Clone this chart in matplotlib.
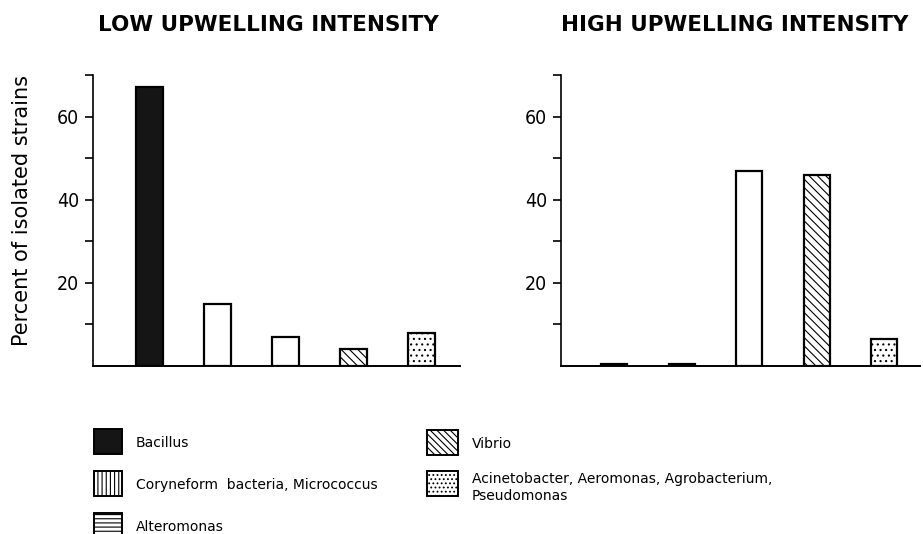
import matplotlib
matplotlib.use("Agg")
import matplotlib.pyplot as plt
from matplotlib.patches import Rectangle

# data (percent of isolated strains)
groups = ["Bacillus", "Coryneform  bacteria, Micrococcus", "Alteromonas",
          "Vibrio", "Acinetobacter, Aeromonas, Agrobacterium,\nPseudomonas"]
low_vals = [67, 15, 7, 4, 8]
high_vals = [0.4, 0.4, 47, 46, 6.5]
yticks = [10, 20, 30, 40, 50, 60, 70]
ytick_labels = ["", "20", "", "40", "", "60", ""]
titles = ["LOW UPWELLING INTENSITY", "HIGH UPWELLING INTENSITY"]

# look of each group: bars (as printed) and legend keys
bar_face = ["#151515", "white", "white", "white", "white"]
bar_hatch = [None, None, None, "\\\\\\\\", "..."]
key_hatch = [None, "||||", "----", "\\\\\\\\\\", "...."]

W, H = 923, 534
fig = plt.figure(figsize=(W / 100, H / 100), dpi=100)
plt.rcParams['hatch.linewidth'] = 0.8


def px_axes(x0, y0, x1, y1):
    return fig.add_axes([x0 / W, 1 - y1 / H, (x1 - x0) / W, (y1 - y0) / H])


def draw_panel(ax, vals, xlim, width):
    x = list(range(1, len(vals) + 1))
    for i in range(len(vals)):
        ax.bar(x[i], vals[i], width=width, color=bar_face[i], hatch=bar_hatch[i],
               edgecolor="black", linewidth=1.6)
    ax.set_xlim(*xlim)
    ax.set_ylim(0, 70)
    ax.set_yticks(yticks)
    ax.set_yticklabels(ytick_labels, fontsize=14, fontstretch="condensed")
    ax.set_xticks([])
    ax.spines["top"].set_visible(False)
    ax.spines["right"].set_visible(False)
    ax.spines["left"].set_linewidth(1.2)
    ax.spines["bottom"].set_linewidth(1.4)
    ax.tick_params(axis="y", direction="out", length=6, width=1.2, pad=4)


ax1 = px_axes(93, 75, 460, 366)
draw_panel(ax1, low_vals, (0.17, 5.57), 0.4)
ax2 = px_axes(561, 75, 920, 366)
draw_panel(ax2, high_vals, (0.21, 5.53), 0.385)

fig.text(268 / W, 1 - 25 / H, titles[0], fontsize=15.5, fontweight="bold",
         ha="center", va="center")
fig.text(735 / W, 1 - 25 / H, titles[1], fontsize=15.5, fontweight="bold",
         ha="center", va="center")
fig.text(22 / W, 1 - 210 / H, "Percent of isolated strains", fontsize=15,
         rotation=90, ha="center", va="center")

# legend, two columns laid out by hand
key_pos = [(94, 429), (94, 471), (94, 513), (427, 430), (427, 471)]
for i, label in enumerate(groups):
    kx, ky = key_pos[i]
    kw = 28 if kx < 300 else 31
    face = "#151515" if i == 0 else "white"
    fig.add_artist(Rectangle((kx / W, 1 - (ky + 25) / H), kw / W, 25 / H,
                             transform=fig.transFigure, facecolor=face,
                             edgecolor="black", hatch=key_hatch[i], linewidth=1.4))
    tx = kx + kw + 14
    if "\n" in label:
        fig.text(tx / W, 1 - (ky + 1) / H, label, fontsize=10, va="top", ha="left",
                 linespacing=1.25)
    else:
        fig.text(tx / W, 1 - (ky + 14) / H, label, fontsize=10, va="center", ha="left")

fig.savefig("out.png", dpi=100)
